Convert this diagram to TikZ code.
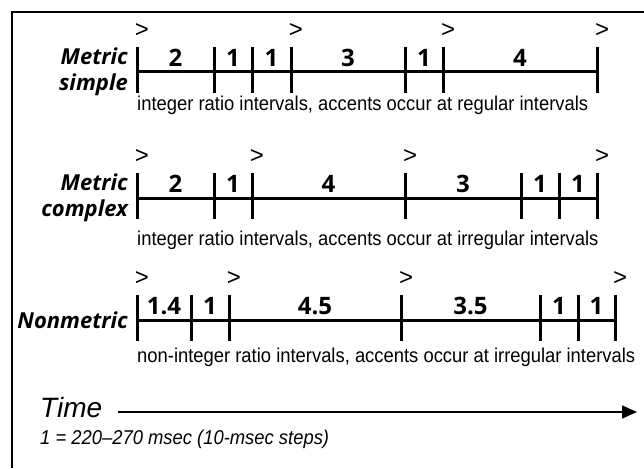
\documentclass[tikz,border=0pt]{standalone}
\usepackage{fontspec}
\setmainfont{Liberation Sans}
\newfontfamily\labelfont{Open Sans}
\newfontfamily\narrowfont[FakeStretch=0.92]{Liberation Sans}
\usetikzlibrary{positioning,arrows.meta}

\tikzset{
  rowline/.style={line width=3pt},
  tickline/.style={line width=3pt},
  rowlabel/.style={font=\labelfont\bfseries\itshape\fontsize{22}{26}\selectfont, anchor=east, align=right, inner sep=0pt},
  count/.style={font=\labelfont\bfseries\fontsize{24}{24}\selectfont, inner sep=0pt},
  accent/.style={font=\fontsize{24}{24}\selectfont, inner sep=0pt},
  caption/.style={font=\narrowfont\fontsize{20}{20}\selectfont, anchor=west, inner sep=0pt}
}

\begin{document}
\begin{tikzpicture}[x=1pt,y=-1pt]

	\useasboundingbox (0,0) rectangle (644,468);
	\draw[line width=2.2pt] (12,468) -- (12,12) -- (644,12);

	% Metric simple
	\foreach \x [count=\i] in {137,214,252,291,405,443,597}
		\coordinate (s\i) at (\x,72);
	\draw[rowline] (s1) -- (s7);
	\foreach \i in {1,...,7}
		\draw[tickline] ([yshift=25pt]s\i) -- ([yshift=-21pt]s\i);
	\foreach \a/\b/\n in {1/2/2, 2/3/1, 3/4/1, 4/5/3, 5/6/1, 6/7/4}
		\path (s\a) -- (s\b) node[midway, above=5pt, count] (s-n\a) {\n};
	\foreach \i in {1,4,6,7}
		\node[accent] (s-acc\i) at ([xshift=5pt,yshift=41pt]s\i) {>};
	\node[rowlabel] (simple) at (128,72) {Metric\\simple};
	\node[caption] (simple-cap) at (137,105) {integer ratio intervals, accents occur at regular intervals};

	% Metric complex
	\foreach \x [count=\i] in {137,214,252,405,521,559,597}
		\coordinate (c\i) at (\x,198);
	\draw[rowline] (c1) -- (c7);
	\foreach \i in {1,...,7}
		\draw[tickline] ([yshift=25pt]c\i) -- ([yshift=-21pt]c\i);
	\foreach \a/\b/\n in {1/2/2, 2/3/1, 3/4/4, 4/5/3, 5/6/1, 6/7/1}
		\path (c\a) -- (c\b) node[midway, above=5pt, count] (c-n\a) {\n};
	\foreach \i in {1,3,4,7}
		\node[accent] (c-acc\i) at ([xshift=5pt,yshift=41pt]c\i) {>};
	\node[rowlabel] (complex) at (128,198) {Metric\\complex};
	\node[caption] (complex-cap) at (137,240) {integer ratio intervals, accents occur at irregular intervals};

	% Nonmetric
	\foreach \x [count=\i] in {137,191,229,401,540,578,615}
		\coordinate (n\i) at (\x,320);
	\draw[rowline] (n1) -- (n7);
	\foreach \i in {1,...,7}
		\draw[tickline] ([yshift=25pt]n\i) -- ([yshift=-21pt]n\i);
	\foreach \a/\b/\n in {1/2/1.4, 2/3/1, 3/4/4.5, 4/5/3.5, 5/6/1, 6/7/1}
		\path (n\a) -- (n\b) node[midway, above=5pt, count] (n-n\a) {\n};
	\foreach \i in {1,3,4,7}
		\node[accent] (n-acc\i) at ([xshift=5pt,yshift=41pt]n\i) {>};
	\node[rowlabel] (nonmetric) at (128,320) {Nonmetric};
	\node[caption] (nonmetric-cap) at (137,357) {non-integer ratio intervals, accents occur at irregular intervals};

	% time axis
	\node[font=\itshape\fontsize{28}{28}\selectfont, anchor=west, inner sep=0pt] (time) at (40,407) {Time};
	\coordinate (time-end) at (637,412);
	\draw[line width=1.5pt, -{Triangle[length=15pt,width=13pt]}] (118,412) -- (time-end);
	\node[font=\narrowfont\itshape\fontsize{20}{20}\selectfont, anchor=west, inner sep=0pt] (unit) at (40,439) {1 = 220–270 msec (10-msec steps)};

\end{tikzpicture}
\end{document}
